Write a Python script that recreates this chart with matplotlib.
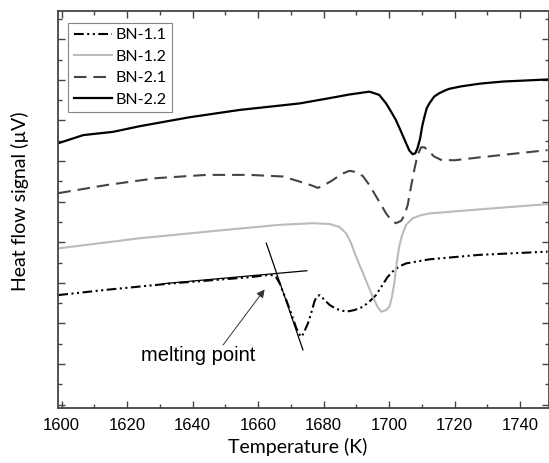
import numpy as np
import matplotlib
matplotlib.use("Agg")
import matplotlib.pyplot as plt
from matplotlib.ticker import MultipleLocator

# BN-2.2 (solid black)
t22 = [1599.0, 1606.6, 1615.7, 1623.9, 1639.1, 1654.4, 1672.7, 1681.8, 1687.9, 1694.0,
       1697.0, 1699.1, 1700.6, 1702.1, 1703.7, 1705.2, 1706.2, 1707.2, 1708.0, 1708.7,
       1709.5, 1710.1, 1710.8, 1711.5, 1712.3, 1713.8, 1715.3, 1717.4, 1718.4, 1722.0,
       1728.0, 1735.0, 1748.4]
s22 = [6.44, 6.64, 6.72, 6.86, 7.08, 7.26, 7.42, 7.55, 7.64, 7.71,
       7.63, 7.42, 7.22, 7.01, 6.72, 6.44, 6.26, 6.17, 6.19, 6.32,
       6.56, 6.85, 7.09, 7.30, 7.42, 7.59, 7.67, 7.75, 7.78, 7.84,
       7.91, 7.96, 8.01]

# BN-2.1 (dashed)
t21 = [1599.0, 1613.7, 1629.0, 1644.2, 1657.4, 1667.6, 1673.7, 1676.7, 1678.2, 1679.8,
       1682.8, 1685.4, 1687.9, 1689.9, 1692.0, 1694.0, 1697.0, 1699.1, 1700.6, 1702.1,
       1703.7, 1704.7, 1705.7, 1706.7, 1707.7, 1708.7, 1709.8, 1710.8, 1712.3, 1713.8,
       1715.9, 1720.0, 1727.5, 1748.4]
s21 = [5.21, 5.41, 5.58, 5.66, 5.66, 5.62, 5.47, 5.39, 5.34, 5.39,
       5.53, 5.68, 5.76, 5.73, 5.63, 5.41, 5.00, 4.71, 4.55, 4.47,
       4.53, 4.67, 4.92, 5.37, 5.78, 6.15, 6.34, 6.34, 6.23, 6.11,
       6.03, 6.02, 6.09, 6.27]

# BN-1.2 (light grey)
t12 = [1599.0, 1623.9, 1649.3, 1666.6, 1676.7, 1681.8, 1684.8, 1686.9, 1688.4, 1689.9,
       1692.5, 1695.0, 1696.5, 1697.6, 1699.1, 1700.1, 1700.9, 1701.6, 1702.3, 1703.1,
       1704.0, 1705.2, 1707.2, 1709.8, 1712.3, 1727.5, 1748.4]
s12 = [3.85, 4.10, 4.30, 4.43, 4.47, 4.45, 4.38, 4.22, 3.98, 3.65,
       3.15, 2.66, 2.41, 2.29, 2.33, 2.41, 2.66, 2.99, 3.48, 3.89,
       4.18, 4.43, 4.59, 4.67, 4.71, 4.81, 4.94]

# BN-1.1 (dash-dot-dot)
t11 = [1599.0, 1613.7, 1634.0, 1651.3, 1657.4, 1662.5, 1664.5, 1665.5, 1666.6, 1667.6,
       1668.6, 1670.1, 1671.7, 1672.7, 1673.2, 1673.9, 1675.2, 1676.2, 1677.2, 1677.9,
       1678.8, 1680.3, 1681.8, 1683.8, 1686.9, 1689.4, 1692.0, 1694.0, 1696.0, 1698.0,
       1699.6, 1701.1, 1703.0, 1705.2, 1712.3, 1727.5, 1748.4]
s11 = [2.70, 2.83, 2.99, 3.10, 3.14, 3.19, 3.19, 3.14, 2.99, 2.78,
       2.58, 2.25, 1.88, 1.72, 1.67, 1.76, 2.00, 2.25, 2.54, 2.66,
       2.70, 2.58, 2.46, 2.36, 2.29, 2.33, 2.41, 2.54, 2.70, 2.95,
       3.15, 3.28, 3.40, 3.48, 3.58, 3.69, 3.77]

# melting-point construction
tan1_t = [1630.9, 1674.9]
tan1_s = [2.98, 3.30]
tan2_t = [1662.5, 1673.7]
tan2_s = [3.98, 1.35]
arrow_tail = (1649.3, 1.47)
arrow_head = (1662.0, 2.84)
text_pos = (1641.7, 1.22)

plt.rcParams['lines.scale_dashes'] = False

fig = plt.figure(figsize=(5.49, 4.63), dpi=100)
ax = fig.add_axes([0.1051, 0.1188, 0.8958, 0.8575])

ax.plot(t11, s11, color='black', lw=1.5, ls=(0, (7, 2.5, 1.5, 2.5, 1.5, 2.5)), label='BN-1.1')
ax.plot(t12, s12, color='#bbbbbb', lw=1.5, label='BN-1.2')
ax.plot(t21, s21, color='#444444', lw=1.5, ls=(0, (9, 5)), label='BN-2.1')
ax.plot(t22, s22, color='black', lw=1.6, label='BN-2.2')

ax.plot(tan1_t, tan1_s, color='black', lw=0.9)
ax.plot(tan2_t, tan2_s, color='black', lw=0.9)
ax.annotate('', xy=arrow_head, xytext=arrow_tail,
            arrowprops=dict(arrowstyle='-|>', color='#333333', lw=0.7,
                            mutation_scale=12, shrinkA=0, shrinkB=0))
ax.text(*text_pos, 'melting point', ha='center', va='center', fontsize=14.5,
        family='Liberation Sans')

ax.set_xlim(1598.8, 1749)
ax.set_ylim(-0.081, 9.697)
ax.xaxis.set_major_locator(MultipleLocator(20))
ax.xaxis.set_minor_locator(MultipleLocator(10))
ax.yaxis.set_major_locator(MultipleLocator(1))
ax.yaxis.set_minor_locator(MultipleLocator(0.5))
ax.tick_params(which='both', direction='in', top=True, right=True, color='#444444')
ax.tick_params(which='major', length=5, width=1, pad=7.5)
ax.tick_params(which='minor', length=3, width=1)
ax.tick_params(axis='y', labelleft=False)
for lab in ax.get_xticklabels():
    lab.set_family('Liberation Sans')
    lab.set_fontsize(12)
for sp in ax.spines.values():
    sp.set_color('#444444')
    sp.set_linewidth(1.3)

ax.set_xlabel('Temperature (K)', family='Lato', fontsize=14, va='center')
ax.xaxis.set_label_coords(0.4876, -0.098)
ax.set_ylabel('Heat flow signal (\u00b5V)', family='Lato', fontsize=14, va='center')
ax.yaxis.set_label_coords(-0.0767, 0.521)

leg = ax.legend(loc='upper left', bbox_to_anchor=(0.0216, 0.9705), borderaxespad=0,
                prop={'family': 'Lato', 'size': 11.5}, fancybox=False, edgecolor='#666666',
                handlelength=2.4, labelspacing=0.45, borderpad=0.35, handletextpad=0.2)
leg.get_frame().set_linewidth(0.8)

fig.savefig('out.png', dpi=100)
